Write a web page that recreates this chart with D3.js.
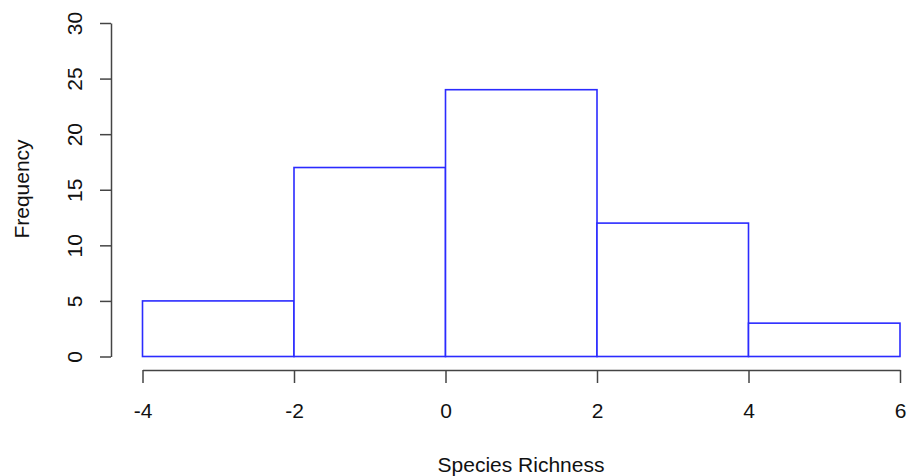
<!DOCTYPE html>
<html>
<head>
<meta charset="utf-8">
<script src="https://cdn.jsdelivr.net/npm/d3@7"></script>
<style>
  body { margin: 0; background: #fff; }
  svg { display: block; font-family: "Liberation Sans", Arial, sans-serif; }
</style>
</head>
<body>
<svg id="viz_area" width="908" height="476"></svg>
<script>
// histogram bins and counts
var binStarts = [-4, -2, 0, 2, 4];
var binWidth = 2;
var counts = [5, 17, 24, 12, 3];
var xTicks = [-4, -2, 0, 2, 4, 6];
var yTicks = [0, 5, 10, 15, 20, 25, 30];

var svg = d3.select("#viz_area");
var x = d3.scaleLinear().domain([-4, 6]).range([142.5, 900]);
var y = d3.scaleLinear().domain([0, 30]).range([356.5, 23]);

svg.selectAll("rect.bar")
  .data(counts)
  .enter().append("rect")
  .attr("class", "bar")
  .attr("x", (d, i) => x(binStarts[i]))
  .attr("y", d => y(d))
  .attr("width", (d, i) => x(binStarts[i] + binWidth) - x(binStarts[i]))
  .attr("height", d => y(0) - y(d))
  .attr("fill", "white")
  .attr("stroke", "#2b2bff")
  .attr("stroke-width", 1.6);

var yAxis = svg.append("g")
  .attr("transform", "translate(111,0)")
  .call(d3.axisLeft(y).tickValues(yTicks).tickSize(11).tickSizeOuter(0).tickFormat(d => String(d)));
yAxis.selectAll("text")
  .attr("x", 0).attr("dy", 0)
  .attr("text-anchor", "middle")
  .attr("transform", "translate(-29,0) rotate(-90)");

var xAxis = svg.append("g")
  .attr("transform", "translate(0,370)")
  .call(d3.axisBottom(x).tickValues(xTicks).tickSize(13).tickSizeOuter(0).tickFormat(d => String(d)));
xAxis.selectAll("text").attr("y", 48).attr("dy", 0);

svg.selectAll("g path, g line").attr("stroke", "#444").attr("stroke-width", 1.5);
svg.selectAll("g text").attr("fill", "#111").style("font-size", "21px").style("font-family", "Liberation Sans, Arial, sans-serif");

svg.append("text")
  .attr("x", 521).attr("y", 472)
  .attr("text-anchor", "middle")
  .style("font-size", "21px")
  .attr("fill", "#111")
  .text("Species Richness");

svg.append("text")
  .attr("transform", "translate(29,189) rotate(-90)")
  .attr("text-anchor", "middle")
  .style("font-size", "21px")
  .attr("fill", "#111")
  .text("Frequency");
</script>
</body>
</html>
